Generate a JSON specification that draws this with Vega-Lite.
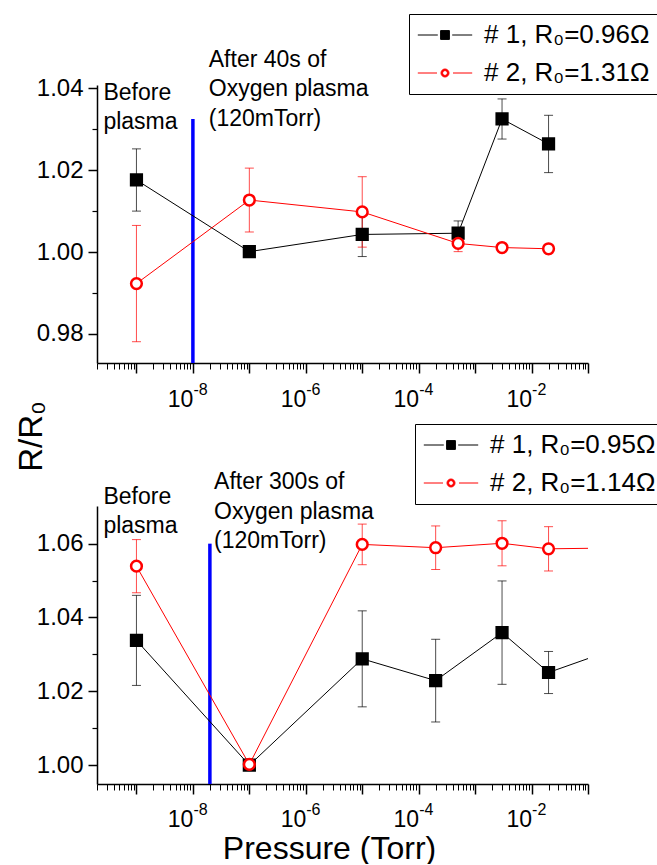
{
  "$schema": "https://vega.github.io/schema/vega-lite/v6.json",
  "padding": {"left": 15, "top": 13, "right": 0, "bottom": 0},
  "background": "white",
  "config": {
    "font": "Liberation Sans",
    "view": {"stroke": null},
    "axis": {"grid": false, "domainColor": "#000", "domainWidth": 1.5, "tickColor": "#000", "tickWidth": 1.5, "labelColor": "#000", "labelFont": "Liberation Sans", "labelFontSize": 23, "titleFont": "Liberation Sans", "titleColor": "#000", "titleFontWeight": "normal", "labelFlush": false, "labelOverlap": false},
    "legend": {"orient": "none", "padding": 8, "strokeColor": "#000", "fillColor": "#fff", "labelFont": "Liberation Sans", "labelFontSize": 26, "labelColor": "#000", "symbolSize": 256, "rowPadding": 12, "labelLimit": 400}
  },
  "datasets": {
    "top": [
      {"p": 1e-9, "r": 1.0176, "lo": 1.0100, "hi": 1.0252, "s": "# 1, R₀=0.96Ω"},
      {"p": 1e-7, "r": 1.0001, "lo": null, "hi": null, "s": "# 1, R₀=0.96Ω"},
      {"p": 1e-5, "r": 1.0043, "lo": 0.9989, "hi": 1.0097, "s": "# 1, R₀=0.96Ω"},
      {"p": 5e-4, "r": 1.0046, "lo": 1.0016, "hi": 1.0076, "s": "# 1, R₀=0.96Ω"},
      {"p": 3e-3, "r": 1.0325, "lo": 1.0276, "hi": 1.0374, "s": "# 1, R₀=0.96Ω"},
      {"p": 2e-2, "r": 1.0264, "lo": 1.0194, "hi": 1.0334, "s": "# 1, R₀=0.96Ω"},
      {"p": 1e-9, "r": 0.9923, "lo": 0.9781, "hi": 1.0065, "s": "# 2, R₀=1.31Ω"},
      {"p": 1e-7, "r": 1.0127, "lo": 1.0049, "hi": 1.0205, "s": "# 2, R₀=1.31Ω"},
      {"p": 1e-5, "r": 1.0098, "lo": 1.0012, "hi": 1.0184, "s": "# 2, R₀=1.31Ω"},
      {"p": 5e-4, "r": 1.0021, "lo": 1.0001, "hi": 1.0041, "s": "# 2, R₀=1.31Ω"},
      {"p": 3e-3, "r": 1.0011, "lo": null, "hi": null, "s": "# 2, R₀=1.31Ω"},
      {"p": 2e-2, "r": 1.0008, "lo": null, "hi": null, "s": "# 2, R₀=1.31Ω"}
    ],
    "bottom": [
      {"p": 1e-9, "r": 1.0338, "lo": 1.0216, "hi": 1.0460, "s": "# 1, R₀=0.95Ω"},
      {"p": 1e-7, "r": 1.0000, "lo": null, "hi": null, "s": "# 1, R₀=0.95Ω"},
      {"p": 1e-5, "r": 1.0288, "lo": 1.0158, "hi": 1.0418, "s": "# 1, R₀=0.95Ω"},
      {"p": 2e-4, "r": 1.0229, "lo": 1.0117, "hi": 1.0341, "s": "# 1, R₀=0.95Ω"},
      {"p": 3e-3, "r": 1.0359, "lo": 1.0219, "hi": 1.0499, "s": "# 1, R₀=0.95Ω"},
      {"p": 2e-2, "r": 1.0251, "lo": 1.0194, "hi": 1.0308, "s": "# 1, R₀=0.95Ω"},
      {"p": 0.2, "r": 1.0305, "lo": null, "hi": null, "s": "# 1, R₀=0.95Ω"},
      {"p": 1e-9, "r": 1.0539, "lo": 1.0467, "hi": 1.0611, "s": "# 2, R₀=1.14Ω"},
      {"p": 1e-7, "r": 1.0002, "lo": null, "hi": null, "s": "# 2, R₀=1.14Ω"},
      {"p": 1e-5, "r": 1.0598, "lo": 1.0543, "hi": 1.0653, "s": "# 2, R₀=1.14Ω"},
      {"p": 2e-4, "r": 1.0589, "lo": 1.0530, "hi": 1.0648, "s": "# 2, R₀=1.14Ω"},
      {"p": 3e-3, "r": 1.0601, "lo": 1.0540, "hi": 1.0662, "s": "# 2, R₀=1.14Ω"},
      {"p": 2e-2, "r": 1.0586, "lo": 1.0526, "hi": 1.0646, "s": "# 2, R₀=1.14Ω"},
      {"p": 0.2, "r": 1.0588, "lo": null, "hi": null, "s": "# 2, R₀=1.14Ω"}
    ],
    "topBlue": [{"p": 1e-8, "y": 0.9729, "y2": 1.0325}],
    "bottomBlue": [{"p": 2e-8, "y": 0.9949, "y2": 1.0600}],
    "topText": [
      {"p": 2.6e-10, "r": 1.0372, "t": "Before|\u2002plasma"},
      {"p": 1.91e-8, "r": 1.0452, "t": "After 40s of|Oxygen plasma|(120mTorr)"}
    ],
    "bottomText": [
      {"p": 2.6e-10, "r": 1.0708, "t": "Before|\u2002plasma"},
      {"p": 2.37e-8, "r": 1.0747, "t": "After 300s of|Oxygen plasma|(120mTorr)"}
    ]
  },
  "vconcat": [
    {
      "width": 491,
      "height": 278,
      "resolve": {"axis": {"x": "independent", "y": "independent"}},
      "layer": [
        {
          "data": {"name": "topBlue"},
          "mark": {"type": "rule", "color": "#0000ff", "strokeWidth": 3.5},
          "encoding": {
            "x": {"field": "p", "type": "quantitative", "scale": {"type": "log", "domain": [2e-10, 0.1], "nice": false},
                  "axis": {"orient": "bottom", "values": [2e-10,3e-10,4e-10,5e-10,6e-10,7e-10,8e-10,9e-10,2e-9,3e-9,4e-9,5e-9,6e-9,7e-9,8e-9,9e-9,2e-8,3e-8,4e-8,5e-8,6e-8,7e-8,8e-8,9e-8,2e-7,3e-7,4e-7,5e-7,6e-7,7e-7,8e-7,9e-7,2e-6,3e-6,4e-6,5e-6,6e-6,7e-6,8e-6,9e-6,2e-5,3e-5,4e-5,5e-5,6e-5,7e-5,8e-5,9e-5,2e-4,3e-4,4e-4,5e-4,6e-4,7e-4,8e-4,9e-4,0.002,0.003,0.004,0.005,0.006,0.007,0.008,0.009,0.02,0.03,0.04,0.05,0.06,0.07,0.08,0.09], "labels": false, "domain": false, "tickSize": 6, "tickWidth": 1, "title": null}},
            "y": {"field": "y", "type": "quantitative", "scale": {"domain": [0.9729, 1.0408], "nice": false, "zero": false},
                  "axis": {"orient": "left", "values": [0.99, 1.01, 1.03], "labels": false, "domain": false, "tickSize": 5, "tickWidth": 1.2, "title": null}},
            "y2": {"field": "y2"}
          }
        },
        {
          "data": {"name": "top"},
          "mark": {"type": "rule", "strokeWidth": 1, "opacity": 0.7},
          "encoding": {
            "x": {"field": "p", "type": "quantitative", "scale": {"type": "log", "domain": [2e-10, 0.1], "nice": false}, "axis": null},
            "y": {"field": "lo", "type": "quantitative", "scale": {"domain": [0.9729, 1.0408], "nice": false, "zero": false}, "axis": null},
            "y2": {"field": "hi"},
            "color": {"field": "s", "type": "nominal", "scale": {"range": ["#000000", "#ff0000"]}}
          }
        },
        {
          "data": {"name": "top"},
          "mark": {"type": "tick", "orient": "horizontal", "size": 9, "thickness": 1, "opacity": 0.7},
          "encoding": {
            "x": {"field": "p", "type": "quantitative", "scale": {"type": "log", "domain": [2e-10, 0.1], "nice": false}, "axis": null},
            "y": {"field": "lo", "type": "quantitative", "scale": {"domain": [0.9729, 1.0408], "nice": false, "zero": false}, "axis": null},
            "color": {"field": "s", "type": "nominal", "scale": {"range": ["#000000", "#ff0000"]}}
          }
        },
        {
          "data": {"name": "top"},
          "mark": {"type": "tick", "orient": "horizontal", "size": 9, "thickness": 1, "opacity": 0.7},
          "encoding": {
            "x": {"field": "p", "type": "quantitative", "scale": {"type": "log", "domain": [2e-10, 0.1], "nice": false}, "axis": null},
            "y": {"field": "hi", "type": "quantitative", "scale": {"domain": [0.9729, 1.0408], "nice": false, "zero": false}, "axis": null},
            "color": {"field": "s", "type": "nominal", "scale": {"range": ["#000000", "#ff0000"]}}
          }
        },
        {
          "data": {"name": "top"},
          "mark": {"type": "line", "strokeWidth": 1},
          "encoding": {
            "x": {"field": "p", "type": "quantitative", "scale": {"type": "log", "domain": [2e-10, 0.1], "nice": false},
                  "axis": {"orient": "bottom", "values": [1e-9,1e-8,1e-7,1e-6,1e-5,1e-4,1e-3,1e-2,1e-1], "tickSize": 10, "labelPadding": 15, "labelAlign": "right", "labelDx": 5, "title": null,
                           "labelExpr": "(datum.value < 2e-8 && datum.value > 5e-9) || (datum.value < 2e-6 && datum.value > 5e-7) || (datum.value < 2e-4 && datum.value > 5e-5) || (datum.value < 0.02 && datum.value > 0.005) ? '10' : ''"}},
            "y": {"field": "r", "type": "quantitative", "scale": {"domain": [0.9729, 1.0408], "nice": false, "zero": false},
                  "axis": {"orient": "left", "values": [0.98, 1.00, 1.02, 1.04], "format": ".2f", "tickSize": 9, "labelPadding": 5, "labelFontSize": 24, "title": "R/R₀", "titleFontSize": 33, "titleX": -66, "titleY": 351, "titleAngle": 270, "titleBaseline": "middle", "titleAlign": "center"}},
            "color": {"field": "s", "type": "nominal", "scale": {"range": ["#000000", "#ff0000"]},
                      "legend": {"title": null, "legendX": 312, "legendY": -71, "symbolOffset": 15, "labelOffset": 26,
                                 "encode": {"symbols": {"update": {
                                   "shape": {"signal": "indexof(datum.value, '# 1') === 0 ? 'M-3.4,0H-0.9M0.9,0H3.4M-0.55,-0.55H0.55V0.55H-0.55Z' : 'M-3.4,0H-1M1,0H3.4M0.5,0A0.5,0.5 0 1 0 -0.5,0A0.5,0.5 0 1 0 0.5,0ZM0.3,0A0.3,0.3 0 1 1 -0.3,0A0.3,0.3 0 1 1 0.3,0Z'"},
                                   "fill": {"signal": "indexof(datum.value, '# 1') === 0 ? '#000000' : '#ff0000'"},
                                   "stroke": {"signal": "indexof(datum.value, '# 1') === 0 ? '#000000' : '#ff0000'"},
                                   "strokeWidth": {"value": 1},
                                   "opacity": {"value": 1}
                                 }}}}}
          }
        },
        {
          "data": {"name": "top"},
          "mark": {"type": "point", "filled": true, "strokeWidth": 2.5, "opacity": 1, "size": 115},
          "encoding": {
            "x": {"field": "p", "type": "quantitative", "scale": {"type": "log", "domain": [2e-10, 0.1], "nice": false}, "axis": null},
            "y": {"field": "r", "type": "quantitative", "scale": {"domain": [0.9729, 1.0408], "nice": false, "zero": false}, "axis": null},
            "shape": {"field": "s", "type": "nominal", "scale": {"range": ["square", "circle"]}, "legend": null},
            "fill": {"field": "s", "type": "nominal", "scale": {"range": ["#000000", "#ffffff"]}, "legend": null},
            "stroke": {"field": "s", "type": "nominal", "scale": {"range": ["#000000", "#ff0000"]}, "legend": null}
          }
        },
        {
          "data": {"name": "topText"},
          "mark": {"type": "text", "align": "left", "baseline": "alphabetic", "fontSize": 23, "lineBreak": "|", "lineHeight": 29.5, "color": "#000"},
          "encoding": {
            "x": {"field": "p", "type": "quantitative", "scale": {"type": "log", "domain": [2e-10, 0.1], "nice": false},
                  "axis": {"orient": "bottom", "values": [1e-8, 1e-6, 1e-4, 1e-2], "domain": false, "tickSize": 10, "tickOpacity": 0, "labelPadding": 8, "labelFontSize": 16, "labelAlign": "left", "labelDx": 6, "title": null,
                           "labelExpr": "datum.value < 2e-8 ? '-8' : datum.value < 2e-6 ? '-6' : datum.value < 2e-4 ? '-4' : '-2'"}},
            "y": {"field": "r", "type": "quantitative", "scale": {"domain": [0.9729, 1.0408], "nice": false, "zero": false}, "axis": null},
            "text": {"field": "t", "type": "nominal"}
          }
        }
      ]
    },
    {
      "width": 491,
      "height": 278,
      "resolve": {"axis": {"x": "independent", "y": "independent"}},
      "layer": [
        {
          "data": {"name": "bottomBlue"},
          "mark": {"type": "rule", "color": "#0000ff", "strokeWidth": 3.5},
          "encoding": {
            "x": {"field": "p", "type": "quantitative", "scale": {"type": "log", "domain": [2e-10, 0.1], "nice": false},
                  "axis": {"orient": "bottom", "values": [2e-10,3e-10,4e-10,5e-10,6e-10,7e-10,8e-10,9e-10,2e-9,3e-9,4e-9,5e-9,6e-9,7e-9,8e-9,9e-9,2e-8,3e-8,4e-8,5e-8,6e-8,7e-8,8e-8,9e-8,2e-7,3e-7,4e-7,5e-7,6e-7,7e-7,8e-7,9e-7,2e-6,3e-6,4e-6,5e-6,6e-6,7e-6,8e-6,9e-6,2e-5,3e-5,4e-5,5e-5,6e-5,7e-5,8e-5,9e-5,2e-4,3e-4,4e-4,5e-4,6e-4,7e-4,8e-4,9e-4,0.002,0.003,0.004,0.005,0.006,0.007,0.008,0.009,0.02,0.03,0.04,0.05,0.06,0.07,0.08,0.09], "labels": false, "domain": false, "tickSize": 6, "tickWidth": 1, "title": null}},
            "y": {"field": "y", "type": "quantitative", "scale": {"domain": [0.9949, 1.0702], "nice": false, "zero": false},
                  "axis": {"orient": "left", "values": [1.01, 1.03, 1.05], "labels": false, "domain": false, "tickSize": 5, "tickWidth": 1.2, "title": null}},
            "y2": {"field": "y2"}
          }
        },
        {
          "data": {"name": "bottom"},
          "mark": {"type": "rule", "strokeWidth": 1, "opacity": 0.7, "clip": true},
          "encoding": {
            "x": {"field": "p", "type": "quantitative", "scale": {"type": "log", "domain": [2e-10, 0.1], "nice": false}, "axis": null},
            "y": {"field": "lo", "type": "quantitative", "scale": {"domain": [0.9949, 1.0702], "nice": false, "zero": false}, "axis": null},
            "y2": {"field": "hi"},
            "color": {"field": "s", "type": "nominal", "scale": {"range": ["#000000", "#ff0000"]}}
          }
        },
        {
          "data": {"name": "bottom"},
          "mark": {"type": "tick", "orient": "horizontal", "size": 9, "thickness": 1, "opacity": 0.7, "clip": true},
          "encoding": {
            "x": {"field": "p", "type": "quantitative", "scale": {"type": "log", "domain": [2e-10, 0.1], "nice": false}, "axis": null},
            "y": {"field": "lo", "type": "quantitative", "scale": {"domain": [0.9949, 1.0702], "nice": false, "zero": false}, "axis": null},
            "color": {"field": "s", "type": "nominal", "scale": {"range": ["#000000", "#ff0000"]}}
          }
        },
        {
          "data": {"name": "bottom"},
          "mark": {"type": "tick", "orient": "horizontal", "size": 9, "thickness": 1, "opacity": 0.7, "clip": true},
          "encoding": {
            "x": {"field": "p", "type": "quantitative", "scale": {"type": "log", "domain": [2e-10, 0.1], "nice": false}, "axis": null},
            "y": {"field": "hi", "type": "quantitative", "scale": {"domain": [0.9949, 1.0702], "nice": false, "zero": false}, "axis": null},
            "color": {"field": "s", "type": "nominal", "scale": {"range": ["#000000", "#ff0000"]}}
          }
        },
        {
          "data": {"name": "bottom"},
          "mark": {"type": "line", "strokeWidth": 1, "clip": true},
          "encoding": {
            "x": {"field": "p", "type": "quantitative", "scale": {"type": "log", "domain": [2e-10, 0.1], "nice": false},
                  "axis": {"orient": "bottom", "values": [1e-9,1e-8,1e-7,1e-6,1e-5,1e-4,1e-3,1e-2,1e-1], "tickSize": 10, "labelPadding": 14, "labelAlign": "right", "labelDx": 5, "title": "Pressure (Torr)", "titleFontSize": 32, "titleX": 232, "titleY": 64, "titleBaseline": "middle", "titleAlign": "center",
                           "labelExpr": "(datum.value < 2e-8 && datum.value > 5e-9) || (datum.value < 2e-6 && datum.value > 5e-7) || (datum.value < 2e-4 && datum.value > 5e-5) || (datum.value < 0.02 && datum.value > 0.005) ? '10' : ''"}},
            "y": {"field": "r", "type": "quantitative", "scale": {"domain": [0.9949, 1.0702], "nice": false, "zero": false},
                  "axis": {"orient": "left", "values": [1.00, 1.02, 1.04, 1.06], "format": ".2f", "tickSize": 9, "labelPadding": 5, "labelFontSize": 24, "title": null}},
            "color": {"field": "s", "type": "nominal", "scale": {"range": ["#000000", "#ff0000"]},
                      "legend": {"title": null, "legendX": 318, "legendY": -82, "symbolOffset": 15, "labelOffset": 26,
                                 "encode": {"symbols": {"update": {
                                   "shape": {"signal": "indexof(datum.value, '# 1') === 0 ? 'M-3.4,0H-0.9M0.9,0H3.4M-0.55,-0.55H0.55V0.55H-0.55Z' : 'M-3.4,0H-1M1,0H3.4M0.5,0A0.5,0.5 0 1 0 -0.5,0A0.5,0.5 0 1 0 0.5,0ZM0.3,0A0.3,0.3 0 1 1 -0.3,0A0.3,0.3 0 1 1 0.3,0Z'"},
                                   "fill": {"signal": "indexof(datum.value, '# 1') === 0 ? '#000000' : '#ff0000'"},
                                   "stroke": {"signal": "indexof(datum.value, '# 1') === 0 ? '#000000' : '#ff0000'"},
                                   "strokeWidth": {"value": 1},
                                   "opacity": {"value": 1}
                                 }}}}}
          }
        },
        {
          "data": {"name": "bottom"},
          "mark": {"type": "point", "filled": true, "strokeWidth": 2.5, "opacity": 1, "size": 115, "clip": true},
          "encoding": {
            "x": {"field": "p", "type": "quantitative", "scale": {"type": "log", "domain": [2e-10, 0.1], "nice": false}, "axis": null},
            "y": {"field": "r", "type": "quantitative", "scale": {"domain": [0.9949, 1.0702], "nice": false, "zero": false}, "axis": null},
            "shape": {"field": "s", "type": "nominal", "scale": {"range": ["square", "circle"]}, "legend": null},
            "fill": {"field": "s", "type": "nominal", "scale": {"range": ["#000000", "#ffffff"]}, "legend": null},
            "stroke": {"field": "s", "type": "nominal", "scale": {"range": ["#000000", "#ff0000"]}, "legend": null}
          }
        },
        {
          "data": {"name": "bottomText"},
          "mark": {"type": "text", "align": "left", "baseline": "alphabetic", "fontSize": 23, "lineBreak": "|", "lineHeight": 29.5, "color": "#000"},
          "encoding": {
            "x": {"field": "p", "type": "quantitative", "scale": {"type": "log", "domain": [2e-10, 0.1], "nice": false},
                  "axis": {"orient": "bottom", "values": [1e-8, 1e-6, 1e-4, 1e-2], "domain": false, "tickSize": 10, "tickOpacity": 0, "labelPadding": 7, "labelFontSize": 16, "labelAlign": "left", "labelDx": 6, "title": null,
                           "labelExpr": "datum.value < 2e-8 ? '-8' : datum.value < 2e-6 ? '-6' : datum.value < 2e-4 ? '-4' : '-2'"}},
            "y": {"field": "r", "type": "quantitative", "scale": {"domain": [0.9949, 1.0702], "nice": false, "zero": false}, "axis": null},
            "text": {"field": "t", "type": "nominal"}
          }
        }
      ]
    }
  ],
  "spacing": 143,
  "bounds": "flush",
  "resolve": {
    "scale": {"x": "independent", "y": "independent", "color": "independent", "fill": "independent", "stroke": "independent", "shape": "independent"},
    "legend": {"color": "independent"}
  }
}
